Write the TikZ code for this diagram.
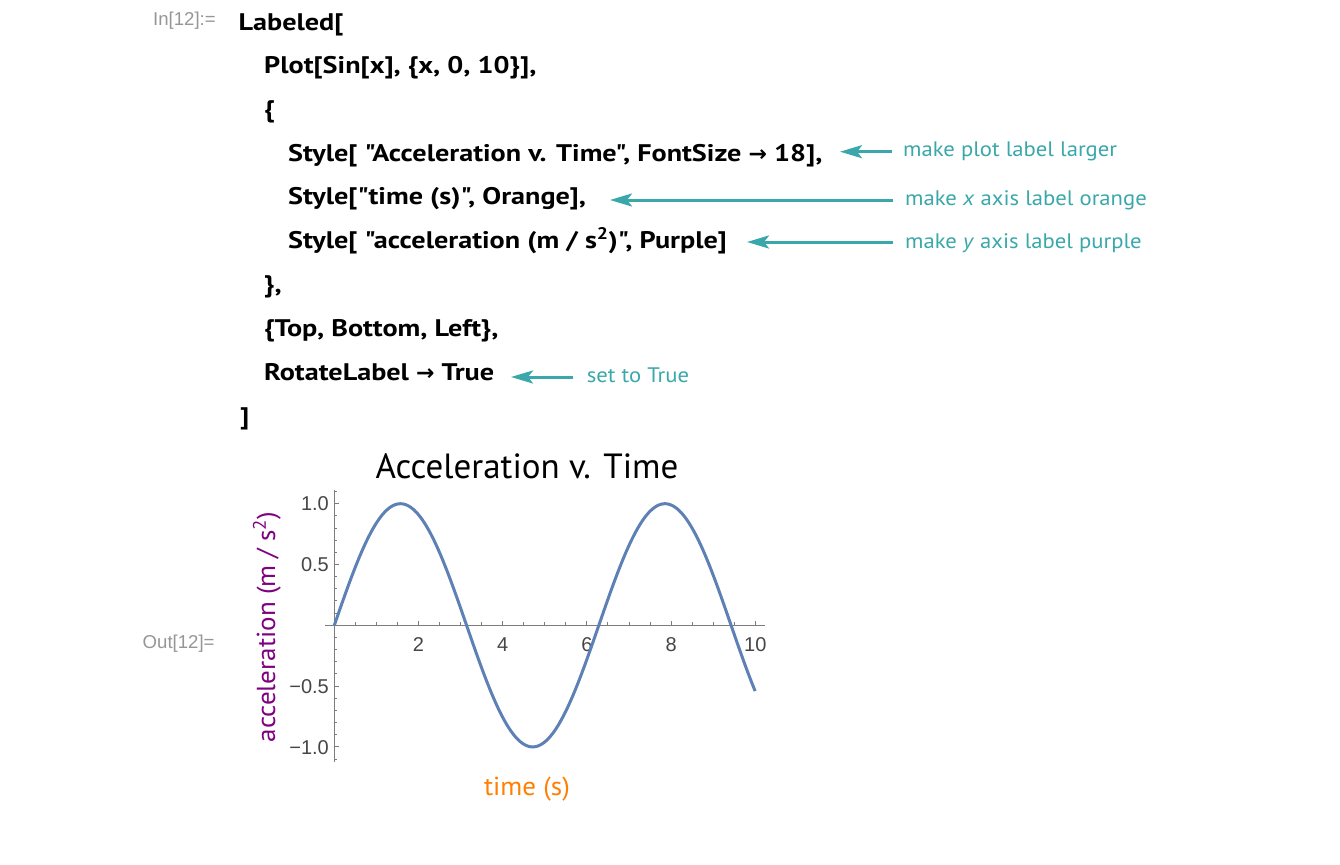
\documentclass[tikz,border=0pt]{standalone}
\usepackage{fontspec}
\setmainfont{PT Sans}
\newfontfamily\codefont{PT Sans}[FakeStretch=1.175, Ligatures=TeXOff]
\newfontfamily\notefont{PT Sans}[FakeStretch=1.08]
\newfontfamily\labfont{PT Sans}[FakeStretch=1.04]
\newfontfamily\tickfont{Liberation Sans}
\newfontfamily\symfont{DejaVu Sans}
\usetikzlibrary{arrows.meta}
\definecolor{noteteal}{RGB}{58,168,170}
\definecolor{promptgray}{RGB}{150,150,150}
\definecolor{tickgray}{RGB}{70,70,70}
\definecolor{axisgray}{RGB}{125,125,125}
\definecolor{curveblue}{RGB}{94,129,181}
\definecolor{mmapurple}{RGB}{128,0,128}
\definecolor{mmaorange}{RGB}{255,128,0}
\newcommand\rul{{\symfont\bfseries\fontsize{22}{22}\selectfont →}}
\begin{document}
\begin{tikzpicture}[x=1pt,y=-1pt,
  codeline/.style={anchor=base west, inner sep=0pt, font=\codefont\fontsize{24}{24}\selectfont\bfseries},
  notetext/.style={anchor=base west, inner sep=0pt, text=noteteal, font=\notefont\fontsize{21}{21}\selectfont},
  prompt/.style={anchor=base west, inner sep=0pt, text=promptgray, font=\tickfont\fontsize{18.6}{18.6}\selectfont},
  callout/.style={draw=noteteal, line width=3pt, -{Stealth[length=22pt,width=13pt,inset=5pt]}},
  ticklab/.style={inner sep=0pt, text=tickgray, font=\tickfont\fontsize{20}{20}\selectfont},
  axisline/.style={draw=axisgray, line width=1pt},
  tickline/.style={draw=axisgray, line width=1pt},
  curve/.style={draw=curveblue, line width=3pt, line join=round}]
\useasboundingbox (0,0) rectangle (1340,864);
\fill[white] (0,0) rectangle (1340,864);

% prompts
\node[prompt] (inp) at (153,26) {In[12]:=};
\node[prompt] (outp) at (142.5,648) {Out[12]=};

% code
\node[codeline] (l1) at (238.5,30.5) {Labeled[};
\node[codeline] (l2) at (264,73.5) {Plot[Sin[x], \{x, 0, 10\}],};
\node[codeline] (l3) at (264,117.3) {\{};
\node[codeline] (l4) at (288,161) {Style[ "Acceleration v. Time", FontSize \rul\ 18],};
\node[codeline] (l5) at (288,204.8) {Style["time (s)", Orange],};
\node[codeline] (l6) at (288,248.6) {Style[ "acceleration (m / s\textsuperscript{2})", Purple]};
\node[codeline] (l7) at (264,292.4) {\},};
\node[codeline] (l8) at (264,336.3) {\{Top, Bottom, Left\},};
\node[codeline] (l9) at (264,380.2) {RotateLabel \rul\ True};
\node[codeline] (l10) at (240,424.1) {]};

% notes
\node[notetext] (n1) at (903,157) {make plot label larger};
\node[notetext] (n2) at (905,205) {make \textit{x} axis label orange};
\node[notetext] (n3) at (905,248) {make \textit{y} axis label purple};
\node[notetext] (n4) at (586.7,382.5) {set to True};

\coordinate (s1) at (892,151.7); \coordinate (t1) at (840,151.7);
\coordinate (s2) at (893,200);   \coordinate (t2) at (610,200);
\coordinate (s3) at (893,242);   \coordinate (t3) at (747,242);
\coordinate (s4) at (573,377);   \coordinate (t4) at (511,377);
\draw[callout] (s1) -- (t1);
\draw[callout] (s2) -- (t2);
\draw[callout] (s3) -- (t3);
\draw[callout] (s4) -- (t4);

% plot axes
\draw[axisline] (325,625.3) -- (764.7,625.3);
\draw[axisline] (334.3,490) -- (334.3,762);
\foreach \k in {1,...,20} {
  \draw[tickline] ({334.3+21.05*\k},625.3) -- ({334.3+21.05*\k},622.3);
}
\foreach \k in {2,4,6,8,10} {
  \draw[tickline] ({334.3+42.1*\k},625.3) -- ({334.3+42.1*\k},620.5);
  \node[ticklab, anchor=base] (xl\k) at ({334.3+42.1*\k},651.7) {\k};
}
\foreach \k in {-11,...,11} {
  \draw[tickline] (334.3,{625.3-12.16*\k}) -- (337.3,{625.3-12.16*\k});
}
\foreach \k in {-10,-5,5,10} {
  \draw[tickline] (334.3,{625.3-12.16*\k}) -- (339.1,{625.3-12.16*\k});
}
\node[ticklab, anchor=base east] (y1) at (329,510.9) {1.0};
\node[ticklab, anchor=base east] (y2) at (329,571.7) {0.5};
\node[ticklab, anchor=base east] (y3) at (329,693.3) {−0.5};
\node[ticklab, anchor=base east] (y4) at (329,754.1) {−1.0};

% curve
\draw[curve] plot[domain=0:10, samples=250] ({334.3+42.1*\x},{625.3-121.6*sin(\x r)});

% labels
\node[anchor=base, inner sep=0pt, font=\fontsize{35}{35}\selectfont] (title) at (527,478) {Acceleration v. Time};
\node[anchor=base, inner sep=0pt, text=mmaorange, font=\labfont\fontsize{26}{26}\selectfont] (xlab) at (527,795) {time (s)};
\node[anchor=base, inner sep=0pt, rotate=90, text=mmapurple, font=\labfont\fontsize{26}{26}\selectfont] (ylab) at (275,627) {acceleration (m / s\textsuperscript{2})};
\end{tikzpicture}
\end{document}
